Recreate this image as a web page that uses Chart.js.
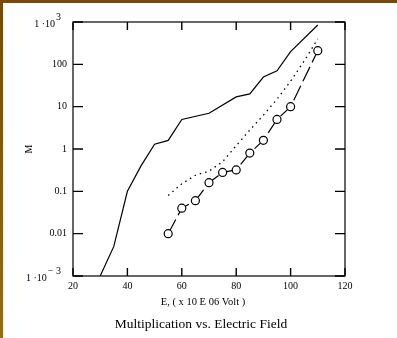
<!DOCTYPE html>
<html lang="en">
<head>
  <meta charset="UTF-8" />
  <title>Multiplication vs. Electric Field</title>
  <script src="https://cdn.jsdelivr.net/npm/chart.js"></script>
  <style>
    html, body { margin: 0; padding: 0; background: #fff; }
    #wrap { position: relative; width: 397px; height: 338px; overflow: hidden; }
    #topBar { position: absolute; left: 0; top: 0; width: 397px; height: 3px; background: #7a4800; }
    #leftBar { position: absolute; left: 0; top: 0; width: 3px; height: 338px;
               background: linear-gradient(#7a4800, #9b6a12); }
    canvas { position: absolute; left: 0; top: 0; }
  </style>
</head>
<body>
  <div id="wrap">
    <canvas id="grafico" width="397" height="338"></canvas>
    <div id="topBar"></div>
    <div id="leftBar"></div>
  </div>

  <script>
    // solid curve
    const eSolid = [30, 35, 40, 45, 50, 55, 60, 70, 80, 85, 90, 95, 100, 110];
    const mSolid = [0.001, 0.005, 0.1, 0.4, 1.3, 1.6, 5, 7, 17, 20, 50, 70, 200, 850];

    // dotted curve
    const eDotted = [55, 60, 65, 70, 75, 80, 85, 90, 95, 100, 105, 110];
    const mDotted = [0.08, 0.15, 0.24, 0.3, 0.5, 1.2, 2.8, 6.3, 15, 40, 120, 400];

    // measured points (circles)
    const eCircle = [55, 60, 65, 70, 75, 80, 85, 90, 95, 100, 110];
    const mCircle = [0.01, 0.04, 0.06, 0.16, 0.28, 0.32, 0.8, 1.6, 5, 10, 210];

    const xTicks = [20, 40, 60, 80, 100, 120];
    const yTicks = [0.001, 0.01, 0.1, 1, 10, 100, 1000];
    const yTickLabels = ['1 \u00b710^\u2212 3', '0.01', '0.1', '1', '10', '100', '1 \u00b710^3'];

    const xTitle = 'E, ( x 10 E 06 Volt )';
    const yTitle = 'M';
    const chartTitle = 'Multiplication vs. Electric Field';

    const serif = '"Liberation Serif", "DejaVu Serif", serif';

    function pts(xs, ys) {
      return xs.map((x, i) => ({ x: x, y: ys[i] }));
    }

    // frame, inward ticks and all the labels
    const eixos = {
      id: 'eixos',
      afterDraw(chart) {
        const ctx = chart.ctx;
        const a = chart.chartArea;
        const sx = chart.scales.x;
        const sy = chart.scales.y;
        ctx.save();
        ctx.strokeStyle = '#000';
        ctx.lineWidth = 1.2;
        ctx.strokeRect(a.left, a.top, a.right - a.left, a.bottom - a.top);

        ctx.lineWidth = 1.4;
        ctx.beginPath();
        xTicks.forEach(v => {
          const px = sx.getPixelForValue(v);
          ctx.moveTo(px, a.bottom); ctx.lineTo(px, a.bottom - 8);
          ctx.moveTo(px, a.top); ctx.lineTo(px, a.top + 8);
        });
        yTicks.forEach(v => {
          const py = sy.getPixelForValue(v);
          ctx.moveTo(a.left, py); ctx.lineTo(a.left + 10, py);
          ctx.moveTo(a.right, py); ctx.lineTo(a.right - 10, py);
        });
        ctx.stroke();

        ctx.fillStyle = '#000';
        ctx.font = '10px ' + serif;
        ctx.textAlign = 'center';
        ctx.textBaseline = 'middle';
        xTicks.forEach(v => {
          ctx.fillText(String(v), sx.getPixelForValue(v), a.bottom + 10);
        });

        yTicks.forEach((v, i) => {
          const py = sy.getPixelForValue(v);
          const parts = yTickLabels[i].split('^');
          ctx.textBaseline = 'middle';
          if (parts.length === 1) {
            ctx.textAlign = 'right';
            ctx.fillText(parts[0], a.left - 6, py);
          } else {
            const supW = ctx.measureText(parts[1]).width;
            const right = a.left - 12;
            ctx.textAlign = 'right';
            ctx.fillText(parts[1], right, py - 5);
            ctx.fillText(parts[0], right - supW - 1, py + 2);
          }
        });

        ctx.textAlign = 'center';
        ctx.font = '10.5px ' + serif;
        ctx.fillText(xTitle, 203, 302);

        ctx.save();
        ctx.translate(29, 149);
        ctx.rotate(-Math.PI / 2);
        ctx.font = '10px ' + serif;
        ctx.fillText(yTitle, 0, 0);
        ctx.restore();

        ctx.font = '13.5px ' + serif;
        ctx.fillText(chartTitle, 201, 324);
        ctx.restore();
      }
    };

    const ctx1 = document.getElementById('grafico').getContext('2d');
    new Chart(ctx1, {
      type: 'line',
      data: {
        datasets: [
          {
            data: pts(eSolid, mSolid),
            borderColor: '#000',
            borderWidth: 1.2,
            pointRadius: 0,
            tension: 0
          },
          {
            data: pts(eDotted, mDotted),
            borderColor: '#000',
            borderWidth: 1.3,
            borderDash: [1.5, 4],
            pointRadius: 0,
            tension: 0
          },
          {
            data: pts(eCircle, mCircle),
            borderColor: '#000',
            borderWidth: 1.2,
            borderDash: [16, 5],
            pointRadius: 4,
            pointBorderWidth: 1.2,
            pointBorderColor: '#000',
            pointBackgroundColor: '#fff',
            tension: 0
          }
        ]
      },
      options: {
        responsive: false,
        animation: false,
        devicePixelRatio: 1,
        layout: { padding: { left: 73, right: 52, top: 22, bottom: 62 } },
        plugins: { legend: { display: false }, tooltip: { enabled: false } },
        scales: {
          x: { type: 'linear', min: 20, max: 120, display: false },
          y: { type: 'logarithmic', min: 0.001, max: 1000, display: false }
        }
      },
      plugins: [eixos]
    });
  </script>
</body>
</html>
